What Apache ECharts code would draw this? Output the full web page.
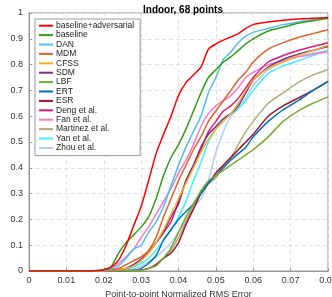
<!DOCTYPE html>
<html><head><meta charset="utf-8">
<script src="https://cdn.jsdelivr.net/npm/echarts@6/dist/echarts.min.js"></script>
<style>html,body{margin:0;padding:0;background:#fff}#c{width:332px;height:297px}</style>
</head><body><div id="c"></div>
<script>
var xs = [0,0.016,0.018,0.020,0.022,0.024,0.026,0.028,0.030,0.032,0.034,0.036,0.038,0.040,0.042,0.044,0.046,0.048,0.050,0.052,0.054,0.056,0.058,0.060,0.064,0.068,0.072,0.076,0.080];
var names = ["baseline+adversarial","baseline","DAN","MDM","CFSS","SDM","LBF","ERT","ESR","Deng et al.","Fan et al.","Martinez et al.","Yan et al.","Zhou et al."];
var colors = ["#ff0000","#2f9e14","#4dbeee","#e0602a","#f0b020","#7e2f8e","#77ac30","#0072bd","#a2142f","#e01a7a","#f57ac8","#b0aa78","#3ff0ff","#aaccff"];
var advData = [0,0,0.002,0.005,0.015,0.043,0.1,0.175,0.25,0.35,0.455,0.53,0.6,0.68,0.73,0.76,0.79,0.86,0.88,0.895,0.907,0.92,0.94,0.955,0.965,0.972,0.977,0.98,0.982];
var baseData = [0,0,0.001,0.005,0.017,0.07,0.11,0.14,0.17,0.21,0.28,0.37,0.44,0.49,0.55,0.62,0.69,0.75,0.78,0.81,0.83,0.855,0.88,0.9,0.93,0.945,0.96,0.97,0.98];
var danData = [0,0,0,0.002,0.008,0.02,0.05,0.085,0.1,0.15,0.19,0.25,0.33,0.41,0.48,0.54,0.6,0.69,0.75,0.82,0.85,0.885,0.91,0.925,0.94,0.955,0.965,0.975,0.985];
var mdmData = [0,0,0,0.001,0.004,0.01,0.025,0.04,0.055,0.08,0.13,0.21,0.28,0.35,0.41,0.47,0.52,0.58,0.62,0.66,0.7,0.74,0.77,0.81,0.86,0.885,0.905,0.92,0.935];
var cfssData = [0,0,0,0,0.002,0.005,0.01,0.02,0.04,0.07,0.11,0.16,0.22,0.28,0.34,0.40,0.46,0.51,0.55,0.58,0.61,0.65,0.7,0.74,0.785,0.81,0.835,0.855,0.875];
var sdmData = [0,0,0,0,0.002,0.005,0.01,0.025,0.045,0.075,0.11,0.15,0.21,0.26,0.35,0.41,0.48,0.53,0.56,0.59,0.61,0.64,0.69,0.74,0.79,0.82,0.84,0.855,0.87];
var lbfData = [0,0,0,0,0,0,0.001,0.002,0.003,0.01,0.02,0.05,0.09,0.15,0.21,0.26,0.31,0.35,0.37,0.39,0.41,0.43,0.45,0.47,0.52,0.58,0.62,0.65,0.675];
var ertData = [0,0,0,0,0,0,0.001,0.003,0.01,0.03,0.06,0.12,0.16,0.2,0.23,0.26,0.3,0.34,0.37,0.4,0.43,0.455,0.48,0.52,0.58,0.625,0.66,0.7,0.735];
var esrData = [0,0,0,0,0,0,0.001,0.002,0.003,0.01,0.025,0.05,0.07,0.11,0.18,0.24,0.3,0.34,0.38,0.41,0.44,0.47,0.5,0.53,0.6,0.64,0.67,0.7,0.735];
var dengData = [0,0,0,0,0.002,0.005,0.01,0.025,0.045,0.07,0.11,0.15,0.19,0.27,0.35,0.41,0.47,0.54,0.58,0.62,0.64,0.67,0.71,0.75,0.81,0.835,0.855,0.87,0.885];
var fanData = [0,0,0,0.002,0.01,0.03,0.055,0.085,0.13,0.17,0.22,0.27,0.32,0.38,0.43,0.49,0.56,0.61,0.64,0.66,0.68,0.71,0.75,0.77,0.8,0.815,0.83,0.84,0.85];
var martinezData = [0,0,0,0,0,0,0,0.001,0.003,0.01,0.025,0.05,0.08,0.13,0.19,0.25,0.31,0.34,0.36,0.41,0.44,0.49,0.54,0.58,0.65,0.69,0.73,0.76,0.78];
var yanData = [0,0,0,0,0.002,0.004,0.008,0.015,0.03,0.05,0.08,0.12,0.16,0.21,0.27,0.35,0.42,0.5,0.55,0.59,0.61,0.63,0.66,0.7,0.765,0.795,0.815,0.835,0.855];
var zhouData = [0,0,0,0,0,0.001,0.003,0.008,0.02,0.035,0.055,0.08,0.11,0.15,0.2,0.25,0.28,0.35,0.46,0.54,0.6,0.63,0.67,0.72,0.78,0.81,0.83,0.845,0.855];
var allData = [advData,baseData,danData,mdmData,cfssData,sdmData,lbfData,ertData,esrData,dengData,fanData,martinezData,yanData,zhouData];

var FONT = '"Liberation Sans", Arial, sans-serif';
var series = [];
for (var i = allData.length - 1; i >= 0; i--) {
  series.push({
    name: names[i], type: 'line', showSymbol: false, symbol: 'none', smooth: 0.2,
    data: xs.map(function (x, k) { return [x, allData[i][k]]; }),
    lineStyle: { color: colors[i], width: 1.5 }, itemStyle: { color: colors[i] },
    z: 10 + (allData.length - i), animation: false
  });
}
var chart = echarts.init(document.getElementById('c'), null, { renderer: 'canvas' });
chart.setOption({
  animation: false,
  backgroundColor: '#fff',
  title: { text: 'Indoor, 68 points', left: 178, top: 0, textAlign: 'center',
    textStyle: { fontFamily: FONT, fontSize: 10, fontWeight: 'bold', color: '#000' } },
  grid: { left: 29, right: 4, top: 13, bottom: 26, show: true, borderColor: '#999', borderWidth: 1, backgroundColor: '#fff', containLabel: false, outerBoundsMode: 'none' },
  legend: {
    orient: 'vertical', left: 35, top: 19, data: names, z: 30,
    backgroundColor: '#fff', borderColor: '#999', borderWidth: 1, borderRadius: 0,
    padding: [2, 6, 3, 4], itemGap: 0, itemWidth: 14, itemHeight: 2, icon: 'rect',
    textStyle: { fontFamily: FONT, fontSize: 8.5, color: '#222', lineHeight: 9.4, padding: [0, 0, 0, -2] }
  },
  xAxis: {
    type: 'value', min: 0, max: 0.08, interval: 0.01,
    name: 'Point-to-point Normalized RMS Error', nameLocation: 'middle', nameGap: 14,
    nameTextStyle: { fontFamily: FONT, fontSize: 9, color: '#333' },
    axisLine: { lineStyle: { color: '#999', width: 1 } },
    axisTick: { inside: true, length: 3, lineStyle: { color: '#999' } },
    axisLabel: { fontFamily: FONT, fontSize: 9, color: '#333', margin: 5, hideOverlap: false, formatter: function (v) { return String(+v.toFixed(2)); } },
    splitLine: { show: true, lineStyle: { color: '#e0e0e0', type: [4, 3], width: 1 } }
  },
  yAxis: {
    type: 'value', min: 0, max: 1, interval: 0.1,
    name: 'Images Proportion', nameLocation: 'middle', nameGap: 20,
    nameTextStyle: { fontFamily: FONT, fontSize: 9, color: '#333' },
    axisLine: { show: true, lineStyle: { color: '#999', width: 1 } },
    axisTick: { show: true, inside: true, length: 3, lineStyle: { color: '#999' } },
    axisLabel: { fontFamily: FONT, fontSize: 9, color: '#333', margin: 6, formatter: function (v) { return String(+v.toFixed(1)); } },
    splitLine: { show: true, lineStyle: { color: '#e0e0e0', type: [4, 3], width: 1 } }
  },
  series: series
});
</script></body></html>
